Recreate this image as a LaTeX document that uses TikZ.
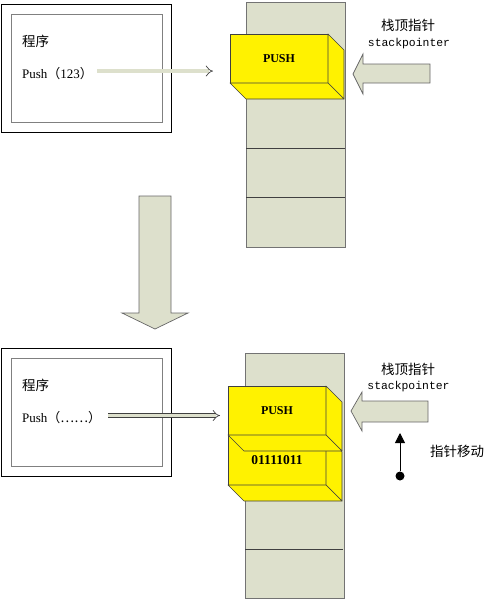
\documentclass[tikz,border=0pt]{standalone}
\usepackage{fontspec}
\setmainfont{Liberation Serif}
\setmonofont{Liberation Mono}
\newfontfamily\cjk{Noto Sans CJK SC}
\usetikzlibrary{positioning, arrows.meta}

\definecolor{stackfill}{RGB}{221,224,204}
\definecolor{boxline}{RGB}{64,64,64}

\tikzset{
    progouter/.style={draw=black, line width=0.7pt, minimum width=170pt, minimum height=128pt, anchor=north west, inner sep=0pt, outer sep=0pt},
    proginner/.style={draw=gray, line width=0.9pt, minimum width=151pt, minimum height=108pt, anchor=north west, inner sep=0pt, outer sep=0pt},
    stackcol/.style={draw=gray!90!black, fill=stackfill, line width=0.7pt, minimum width=99pt, minimum height=245pt, anchor=north west, inner sep=0pt, outer sep=0pt},
    cellline/.style={draw=boxline, line width=0.7pt},
    pushface/.style={draw=boxline, fill=yellow, line width=0.6pt, minimum width=98pt, minimum height=49pt, anchor=north west, inner sep=0pt, outer sep=0pt, font=\bfseries\fontsize{12}{14}\selectfont},
    pushside/.style={draw=boxline, fill=yellow, line width=0.6pt, line join=round},
    fatarrow/.style={draw=gray!80!black, fill=stackfill, line width=0.7pt, line join=miter},
    thinarrow/.style={draw=gray!50!black, line width=0.7pt, double=stackfill, double distance=3.2pt, -{Implies}},
    cjktext/.style={font=\cjk\fontsize{13.5}{16}\selectfont, inner sep=0pt},
    codetext/.style={font=\fontsize{13}{15}\selectfont, inner sep=0pt, anchor=base west},
    monotext/.style={font=\ttfamily\fontsize{11.4}{13}\selectfont, inner sep=0pt, anchor=base},
}

% yellow block: name, x, y, label
\newcommand{\pushblock}[4]{%
    \node[pushface] (#1) at (#2,#3) {#4};
    \draw[pushside] (#1.north east) -- ++(16,16) -- ++(0,49) -- (#1.south east) -- cycle;
    \draw[pushside] (#1.south west) -- ++(16,16) -- ++(98,0) -- (#1.south east) -- cycle;
}

\begin{document}
\begin{tikzpicture}[x=1pt, y=-1pt]
    \useasboundingbox (0,0) rectangle (493,600);

    % before
    \node[progouter] (prog1) at (1,4) {};
    \node[proginner] (progin1) at (11,14) {};
    \node[cjktext, anchor=base west] (title1) at (22,46) {程序};
    \node[codetext] (push1) at (22,78) {Push{\cjk（}123{\cjk）}};

    \node[stackcol] (stack1) at (246,2) {};
    \draw[cellline] (246,148) -- (345,148);
    \draw[cellline] (246,197) -- (345,197);
    \pushblock{box1}{230}{34}{PUSH}

    \draw[thinarrow, shorten <=4pt, shorten >=17pt] ([yshift=2pt]push1.east) -- ([yshift=2pt]push1.east -| box1.west);

    \draw[fatarrow] (353,74) -- (363,54) -- (363,64) -- (430,64) -- (430,83) -- (363,83) -- (363,94) -- cycle;
    \node[cjktext, anchor=base] (sptitle1) at (408,30) {栈顶指针};
    \node[monotext] (sp1) at (409,46.5) {stackpointer};

    % step down
    \draw[fatarrow] (139,196) -- (171,196) -- (171,313) -- (188,313) -- (155,329) -- (122,313) -- (139,313) -- cycle;

    % after
    \node[progouter] (prog2) at (1,348) {};
    \node[proginner] (progin2) at (11,358) {};
    \node[cjktext, anchor=base west] (title2) at (22,390) {程序};
    \node[codetext] (push2) at (22,422.5) {Push{\cjk（……）}};

    \node[stackcol] (stack2) at (245,353) {};
    \draw[cellline] (245,549) -- (343,549);
    \pushblock{box3}{228}{436}{\fontsize{13.5}{15}\selectfont 01111011}
    \pushblock{box2}{228}{386}{PUSH}

    \draw[thinarrow, shorten <=7pt, shorten >=8pt] ([yshift=2pt]push2.east) -- ([yshift=2pt]push2.east -| box2.west);

    \draw[fatarrow] (351,411) -- (362,392) -- (362,401) -- (428,401) -- (428,422) -- (362,422) -- (362,431) -- cycle;
    \node[cjktext, anchor=base] (sptitle2) at (408,374) {栈顶指针};
    \node[monotext] (sp2) at (408.5,389) {stackpointer};

    \node[circle, fill=black, inner sep=0pt, minimum size=9pt] (mvdot) at (400,476) {};
    \coordinate (mvtip) at (400,433);
    \draw[line width=0.8pt, -{Triangle[length=10pt, width=10pt]}] (mvdot) -- (mvtip);
    \node[cjktext, anchor=base west] (mvtext) at (430,456) {指针移动};

\end{tikzpicture}
\end{document}
